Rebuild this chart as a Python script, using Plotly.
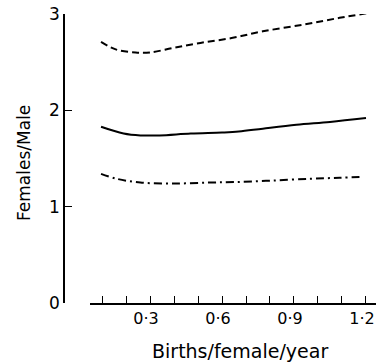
import plotly.graph_objects as go

# Data
x_upper = [0.096, 0.16, 0.24, 0.30, 0.40, 0.51, 0.64, 0.77, 0.94, 1.09, 1.21]
y_upper = [2.71, 2.63, 2.60, 2.60, 2.65, 2.70, 2.75, 2.82, 2.89, 2.96, 3.01]

x_mid = [0.096, 0.19, 0.26, 0.34, 0.47, 0.60, 0.67, 0.77, 0.91, 1.05, 1.20]
y_mid = [1.83, 1.76, 1.74, 1.74, 1.76, 1.77, 1.78, 1.81, 1.85, 1.88, 1.92]

x_low = [0.096, 0.16, 0.26, 0.40, 0.54, 0.65, 0.80, 0.97, 1.09, 1.19]
y_low = [1.34, 1.29, 1.25, 1.24, 1.25, 1.255, 1.27, 1.29, 1.30, 1.31]

x_tickvals = [0.1, 0.2, 0.3, 0.4, 0.5, 0.6, 0.7, 0.8, 0.9, 1.0, 1.1, 1.2]
x_ticktext = ["", "", "0·3", "", "", "0·6", "", "", "0·9", "", "", "1·2"]
y_tickvals = [0, 1, 2, 3]
y_ticktext = ["0", "1", "2", "3"]

FONT = "DejaVu Sans"
W, H = 378, 363
ML, MR, MT, MB = 64, 2, 14, 60
PW, PH = W - ML - MR, H - MT - MB

fig = go.Figure()
fig.add_trace(go.Scatter(x=x_upper, y=y_upper, mode="lines",
                         line=dict(color="black", width=2, dash="7px,4px", shape="spline")))
fig.add_trace(go.Scatter(x=x_mid, y=y_mid, mode="lines",
                         line=dict(color="black", width=2, shape="spline")))
fig.add_trace(go.Scatter(x=x_low, y=y_low, mode="lines",
                         line=dict(color="black", width=2, dash="8px,4px,2px,4px", shape="spline")))

fig.update_layout(
    width=W, height=H,
    margin=dict(l=ML, r=MR, t=MT, b=MB, autoexpand=False),
    paper_bgcolor="white", plot_bgcolor="white",
    showlegend=False,
    font=dict(family=FONT, color="black", size=17),
    xaxis=dict(
        domain=[26 / PW, 1.0], range=[0.05, 1.2417], automargin=False,
        showline=True, linecolor="black", linewidth=1.5,
        ticks="inside", ticklen=7, tickwidth=1.2, tickcolor="black",
        tickvals=x_tickvals, ticktext=x_ticktext,
        showgrid=False, zeroline=False,
        tickfont=dict(size=16), ticklabeloverflow="allow", ticklabelshift=-4,
    ),
    yaxis=dict(
        anchor="free", position=0, range=[0, 3], automargin=False,
        showline=True, linecolor="black", linewidth=1.5,
        ticks="inside", ticklen=7, tickwidth=1.2, tickcolor="black",
        tickvals=y_tickvals, ticktext=y_ticktext,
        showgrid=False, zeroline=False,
        tickfont=dict(size=17),
    ),
    annotations=[
        dict(text="Births/female/year", xref="paper", yref="paper",
             x=(240 - ML) / PW, y=-(351 - MT - PH) / PH, xanchor="center", yanchor="middle",
             showarrow=False, font=dict(size=19)),
        dict(text="Females/Male", xref="paper", yref="paper",
             x=(24 - ML) / PW, y=(H - MB - 163) / PH, xanchor="center", yanchor="middle",
             textangle=-90, showarrow=False, font=dict(size=17)),
    ],
)

fig.write_html("out.html", config={"displayModeBar": False},
               post_script="document.body.style.margin='0';document.body.style.overflow='hidden';")
